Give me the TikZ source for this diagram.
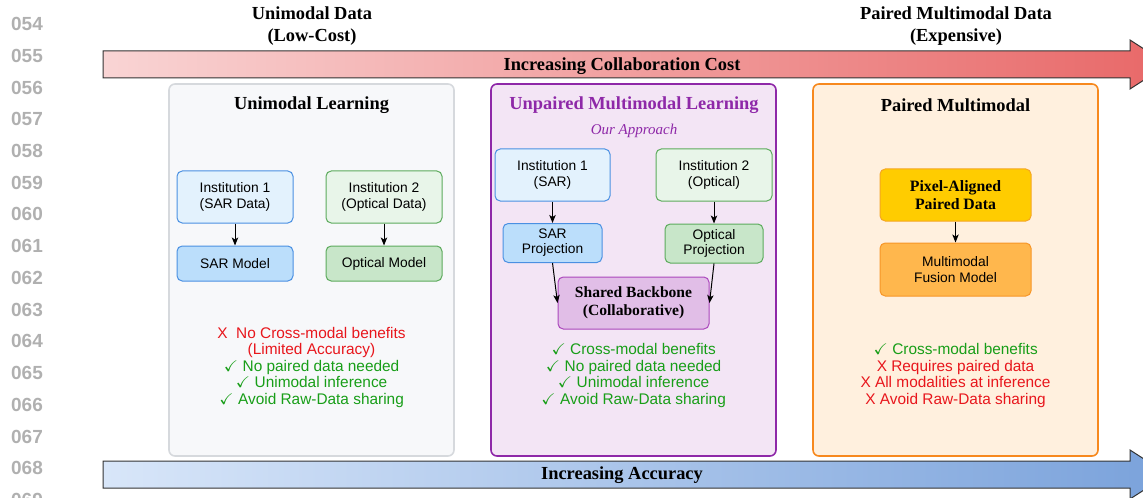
\documentclass[tikz,border=0pt]{standalone}
\usepackage{fontspec}
\usepackage{amssymb}
\setmainfont{Liberation Serif}
\setsansfont{Liberation Sans}
\usetikzlibrary{arrows.meta}

% palette
\definecolor{costL}{RGB}{249,212,212}
\definecolor{costR}{RGB}{232,104,104}
\definecolor{accL}{RGB}{216,230,249}
\definecolor{accR}{RGB}{122,162,219}
\definecolor{lineno}{RGB}{176,176,176}
\definecolor{grayFill}{RGB}{247,248,250}
\definecolor{grayEdge}{RGB}{214,217,221}
\definecolor{purpFill}{RGB}{243,229,245}
\definecolor{purpEdge}{RGB}{142,40,168}
\definecolor{purpText}{RGB}{142,40,168}
\definecolor{bbFill}{RGB}{225,190,231}
\definecolor{bbEdge}{RGB}{171,71,188}
\definecolor{oranFill}{RGB}{255,240,222}
\definecolor{oranEdge}{RGB}{247,137,30}
\definecolor{blueLight}{RGB}{227,242,253}
\definecolor{blueMid}{RGB}{187,222,251}
\definecolor{blueEdge}{RGB}{74,144,226}
\definecolor{greenLight}{RGB}{232,245,233}
\definecolor{greenMid}{RGB}{200,230,201}
\definecolor{greenEdge}{RGB}{92,171,92}
\definecolor{goldFill}{RGB}{255,204,0}
\definecolor{goldEdge}{RGB}{245,166,35}
\definecolor{fusionFill}{RGB}{255,183,77}
\definecolor{fusionEdge}{RGB}{247,150,40}
\definecolor{proRed}{RGB}{232,22,28}
\definecolor{proGreen}{RGB}{24,158,24}

\begin{document}
\begin{tikzpicture}[x=0.5pt,y=-0.5pt,
  panel/.style={draw, rounded corners=3pt, line width=0.8pt,
    minimum width=142.5pt, minimum height=186pt, inner sep=0pt},
  box/.style={draw, rounded corners=2.6pt, line width=0.5pt, align=center,
    inner sep=0pt, font=\sffamily\fontsize{6.9}{7.6}\selectfont},
  serifbox/.style={box, font=\bfseries\fontsize{7.8}{9}\selectfont},
  heading/.style={font=\bfseries\fontsize{9.2}{11}\selectfont, align=center},
  flow/.style={-{Stealth[length=4pt,width=3.2pt,inset=1pt]}, line width=0.5pt},
  bullets/.style={font=\sffamily\fontsize{7.7}{8.25}\selectfont, align=center},
  numlabel/.style={font=\sffamily\bfseries\fontsize{9.5}{10}\selectfont, text=lineno},
  bararrow/.style={draw=black!80, line width=0.5pt}]
\useasboundingbox (0,0) rectangle (1143,497);
\clip (0,0) rectangle (1143,497);

% margin line numbers
\foreach \n [count=\i from 0] in {054,055,056,057,058,059,060,061,062,063,064,065,066,067,068,069}
  \node[numlabel] (ln\i) at (27,24+\i*31.74) {\n};

% axis captions
\node[heading] (lowcost) at (312,26) {Unimodal Data\\(Low-Cost)};
\node[heading] (expensive) at (956,26) {Paired Multimodal Data\\(Expensive)};

% cost arrow
\shadedraw[bararrow, left color=costL, right color=costR]
  (103,51) -- (1130,51) -- (1130,40) -- (1168,64.5) -- (1130,89) -- (1130,78) -- (103,78) -- cycle;
\node[heading] (costlbl) at (622,66) {Increasing Collaboration Cost};

% accuracy arrow
\shadedraw[bararrow, left color=accL, right color=accR]
  (103,461) -- (1130,461) -- (1130,450) -- (1168,474.5) -- (1130,499) -- (1130,488) -- (103,488) -- cycle;
\node[heading] (acclbl) at (622,475.5) {Increasing Accuracy};

% panels
\node[panel, fill=grayFill, draw=grayEdge] (uni) at (311.5,270) {};
\node[panel, fill=purpFill, draw=purpEdge] (unp) at (633.5,270) {};
\node[panel, fill=oranFill, draw=oranEdge] (pair) at (955.5,270) {};

\node[heading] (uniT) at (311.5,105) {Unimodal Learning};
\node[heading, text=purpText] (unpT) at (634,105.5) {Unpaired Multimodal Learning};
\node[font=\itshape\fontsize{7.5}{9}\selectfont, text=purpText] (unpS) at (634,131) {Our Approach};
\node[heading] (pairT) at (955.5,105) {Paired Multimodal};

% unimodal learning
\node[box, fill=blueLight, draw=blueEdge, minimum width=58pt, minimum height=26pt] (u1) at (235,197) {Institution 1\\(SAR Data)};
\node[box, fill=greenLight, draw=greenEdge, minimum width=58pt, minimum height=26pt] (u2) at (384,197) {Institution 2\\(Optical Data)};
\node[box, fill=blueMid, draw=blueEdge, minimum width=58pt, minimum height=17.5pt] (u3) at (235,263.5) {SAR Model};
\node[box, fill=greenMid, draw=greenEdge, minimum width=58pt, minimum height=17.5pt] (u4) at (384,263.5) {Optical Model};
\draw[flow] (u1) -- (u3);
\draw[flow] (u2) -- (u4);

\node[bullets] (uniB) at (311.5,367.5) {%
  \textcolor{proRed}{X\ \ No Cross-modal benefits}\\
  \textcolor{proRed}{(Limited Accuracy)}\\
  \textcolor{proGreen}{$\checkmark$ No paired data needed}\\
  \textcolor{proGreen}{$\checkmark$ Unimodal inference}\\
  \textcolor{proGreen}{$\checkmark$ Avoid Raw-Data sharing}};

% unpaired multimodal learning
\node[box, fill=blueLight, draw=blueEdge, minimum width=57.5pt, minimum height=26pt] (p1) at (552.5,175) {Institution 1\\(SAR)};
\node[box, fill=greenLight, draw=greenEdge, minimum width=58pt, minimum height=26pt] (p2) at (714,175) {Institution 2\\(Optical)};
\node[box, fill=blueMid, draw=blueEdge, minimum width=49.5pt, minimum height=19.5pt] (p3) at (552.5,243) {SAR\\Projection};
\node[box, fill=greenMid, draw=greenEdge, minimum width=49pt, minimum height=19.5pt] (p4) at (714,243.5) {Optical\\Projection};
\node[serifbox, fill=bbFill, draw=bbEdge, minimum width=75.5pt, minimum height=26pt] (bb) at (633.5,303) {Shared Backbone\\(Collaborative)};
\draw[flow] (p1) -- (p3);
\draw[flow] (p2) -- (p4);
\draw[flow] (p3.south) -- (bb.west);
\draw[flow] (p4.south) -- (bb.east);

\node[bullets, text=proGreen] (unpB) at (633.5,375.5) {%
  $\checkmark$ Cross-modal benefits\\
  $\checkmark$ No paired data needed\\
  $\checkmark$ Unimodal inference\\
  $\checkmark$ Avoid Raw-Data sharing};

% paired multimodal
\node[serifbox, fill=goldFill, draw=goldEdge, minimum width=75.5pt, minimum height=26pt,
  font=\bfseries\fontsize{7.9}{8.6}\selectfont] (q1) at (955.5,195) {Pixel-Aligned\\Paired Data};
\node[box, fill=fusionFill, draw=fusionEdge, minimum width=75.5pt, minimum height=26.5pt] (q2) at (955.5,269.5) {Multimodal\\Fusion Model};
\draw[flow] (q1) -- (q2);

\node[bullets] (pairB) at (955.5,375.5) {%
  \textcolor{proGreen}{$\checkmark$ Cross-modal benefits}\\
  \textcolor{proRed}{X Requires paired data}\\
  \textcolor{proRed}{X All modalities at inference}\\
  \textcolor{proRed}{X Avoid Raw-Data sharing}};
\end{tikzpicture}
\end{document}
